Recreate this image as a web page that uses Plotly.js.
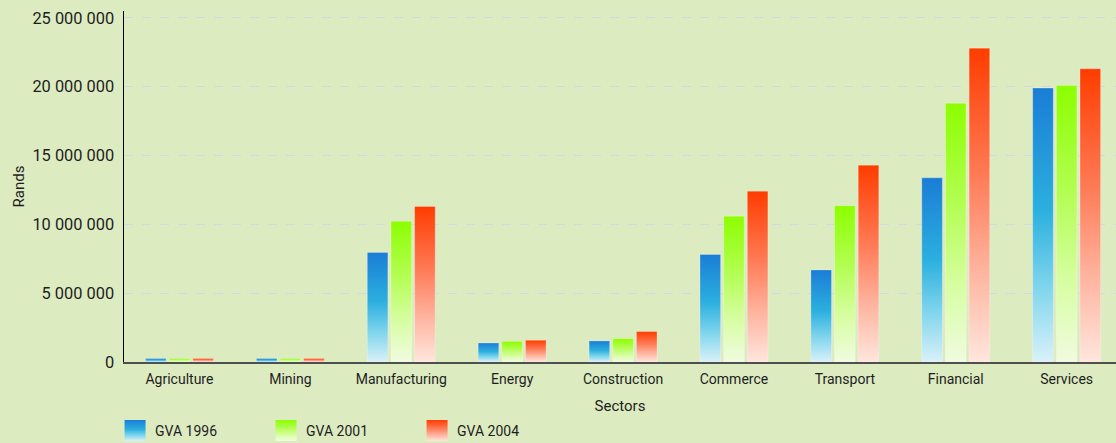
<!DOCTYPE html>
<html>
<head>
<meta charset="utf-8">
<script src="https://cdn.plot.ly/plotly-3.0.1.min.js"></script>
<style>
  html, body { margin: 0; padding: 0; background: #ddebc1; }
  #chart { width: 1116px; height: 443px; }
</style>
</head>
<body>
<div id="chart"></div>
<script>
const sectors = ["Agriculture", "Mining", "Manufacturing", "Energy", "Construction", "Commerce", "Transport", "Financial", "Services"];
const gva1996 = [250000, 250000, 7950000, 1380000, 1530000, 7810000, 6690000, 13380000, 19900000];
const gva2001 = [250000, 250000, 10230000, 1500000, 1700000, 10590000, 11360000, 18800000, 20080000];
const gva2004 = [250000, 250000, 11300000, 1580000, 2210000, 12410000, 14300000, 22800000, 21300000];
const seriesNames = ["GVA 1996", "GVA 2001", "GVA 2004"];

const FONT = "Roboto, 'Noto Sans', sans-serif";
const TXT = "#1e1e1e";

const traces = [gva1996, gva2001, gva2004].map((vals, i) => ({
  type: "bar",
  name: seriesNames[i],
  x: sectors,
  y: vals,
  marker: { color: ["#1b7fd7", "#8cff00", "#ff3c00"][i], line: { width: 1, color: "rgba(255,255,255,0.25)" } },
  hoverinfo: "skip"
}));

const layout = {
  width: 1116,
  height: 443,
  paper_bgcolor: "#ddebc1",
  plot_bgcolor: "#ddebc1",
  margin: { l: 124, r: 0, t: 11, b: 81 },
  separators: ". ",
  barmode: "group",
  bargap: 0.36,
  bargroupgap: 0.13,
  font: { family: FONT, color: TXT, size: 14 },
  showlegend: true,
  legend: {
    orientation: "h",
    x: -0.009, xanchor: "left",
    y: -0.2305, yanchor: "bottom",
    entrywidth: 106, entrywidthmode: "pixels",
    font: { family: FONT, size: 14, color: TXT },
    bgcolor: "rgba(0,0,0,0)",
    traceorder: "normal"
  },
  xaxis: {
    type: "category",
    range: [-0.5, 8.445],
    showgrid: false,
    zeroline: false,
    showline: true,
    linecolor: "#4f4f4f",
    linewidth: 2,
    ticks: "",
    ticklabelstandoff: 3,
    tickfont: { family: FONT, size: 14, color: TXT },
    title: { text: "Sectors", font: { family: FONT, size: 15, color: TXT }, standoff: 15 },
    fixedrange: true
  },
  yaxis: {
    range: [0, 25500000],
    tickvals: [0, 5000000, 10000000, 15000000, 20000000, 25000000],
    tickformat: ",d",
    showgrid: true,
    gridcolor: "#d3d8e4",
    gridwidth: 1.2,
    griddash: "dash",
    zeroline: false,
    showline: true,
    linecolor: "#000000",
    linewidth: 1.5,
    ticks: "",
    ticklabelstandoff: 5,
    tickfont: { family: FONT, size: 16.4, color: TXT },
    title: { text: "Rands", font: { family: FONT, size: 15, color: TXT }, standoff: 4 },
    fixedrange: true
  }
};

const gradients = [
  { id: "gBlue", stops: [[0, "#1a7dd6"], [0.45, "#2cb0df"], [0.72, "#7dd4ec"], [1, "#d9f1f9"]] },
  { id: "gGreen", stops: [[0, "#8cff00"], [0.4, "#b4fe55"], [0.7, "#d6fea0"], [1, "#f0fbe0"]] },
  { id: "gRed", stops: [[0, "#ff3c00"], [0.4, "#ff7a55"], [0.7, "#ffb29d"], [1, "#ffe6dd"]] }
];

function styleChart(gd) {
  const NS = "http://www.w3.org/2000/svg";
  const svg = gd.querySelector(".main-svg");
  let defs = svg.querySelector("defs");
  if (!defs) { defs = document.createElementNS(NS, "defs"); svg.insertBefore(defs, svg.firstChild); }
  if (!defs.querySelector("#gBlue")) {
    gradients.forEach(g => {
      const lg = document.createElementNS(NS, "linearGradient");
      lg.setAttribute("id", g.id);
      lg.setAttribute("x1", "0"); lg.setAttribute("y1", "0");
      lg.setAttribute("x2", "0"); lg.setAttribute("y2", "1");
      g.stops.forEach(s => {
        const st = document.createElementNS(NS, "stop");
        st.setAttribute("offset", s[0]);
        st.setAttribute("stop-color", s[1]);
        lg.appendChild(st);
      });
      defs.appendChild(lg);
    });
  }
  gd.querySelectorAll(".barlayer .trace").forEach((t, i) => {
    t.querySelectorAll(".point path").forEach(p => { p.style.fill = "url(#" + gradients[i].id + ")"; });
  });
  gd.querySelectorAll(".legend .traces").forEach((t, i) => {
    t.querySelectorAll(".legendpoints path").forEach(p => {
      p.setAttribute("d", "M-10.5,-10.5H10.5V10.5H-10.5Z");
      p.style.fill = "url(#" + gradients[i].id + ")";
      p.style.stroke = "none";
    });
    if (!t.getAttribute("data-shifted")) {
      const tr = t.getAttribute("transform") || "translate(0,0)";
      const m = tr.match(/translate\(\s*([-\d.e]+)(?:[ ,]+([-\d.e]+))?\s*\)/);
      if (m) {
        const x = parseFloat(m[1]), y = m[2] !== undefined ? parseFloat(m[2]) : 0;
        t.setAttribute("transform", "translate(" + x + "," + (y + 4) + ")");
        t.setAttribute("data-shifted", "1");
      }
    }
  });
}

Plotly.newPlot("chart", traces, layout, { staticPlot: true, displayModeBar: false }).then(gd => {
  styleChart(gd);
  setTimeout(() => styleChart(gd), 50);
});
</script>
</body>
</html>
